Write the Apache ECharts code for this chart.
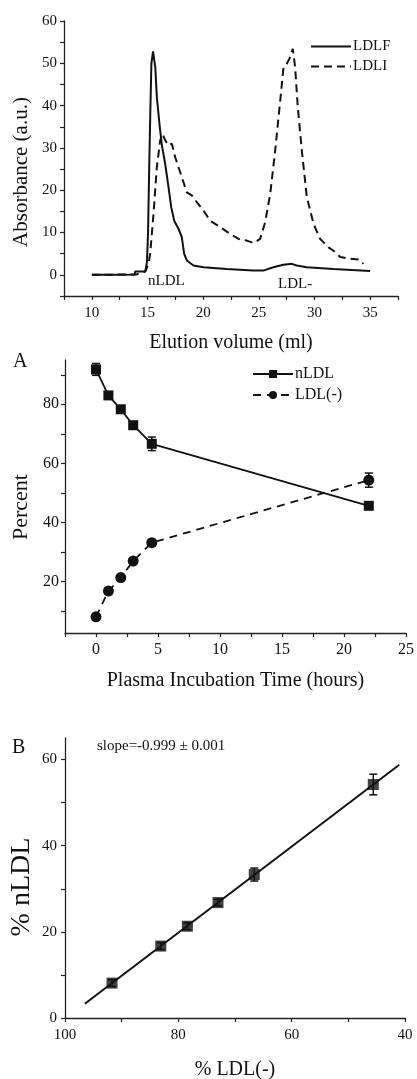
<!DOCTYPE html>
<html>
<head>
<meta charset="utf-8">
<script src="https://cdn.jsdelivr.net/npm/echarts@6/dist/echarts.min.js"></script>
<style>
html,body{margin:0;padding:0;background:#fff;}
#c{width:417px;height:1079px;}
</style>
</head>
<body>
<div id="c"></div>
<script>
// ---------- Panel 1: elution profile ----------
const ldlfX = [10, 11, 12, 13, 13.85, 13.9, 14.0, 14.8, 14.95, 15.05, 15.15, 15.25, 15.35, 15.5, 15.6, 15.7, 15.84, 16.1, 16.3, 16.59, 16.89, 17.13, 17.4, 17.78, 18.08, 18.29, 18.53, 19.13, 20.03, 22.1, 24.5, 25.4, 26.3, 27.2, 27.96, 28.4, 29.3, 31.7, 35];
const ldlfY = [0, 0, 0.05, 0.05, 0.1, 0.8, 0.7, 0.8, 3, 10, 25, 38, 50, 52.8, 52.5, 49, 42, 35, 30.5, 26.2, 20.7, 16, 12.8, 10.9, 8.9, 5, 3.4, 2.2, 1.8, 1.4, 1.0, 1.0, 1.8, 2.4, 2.6, 2.2, 1.8, 1.4, 0.9];
const ldliX = [10, 12, 14, 14.8, 15.09, 15.24, 15.54, 15.84, 16.14, 16.35, 16.59, 16.89, 17.19, 17.49, 17.93, 18.53, 18.98, 19.43, 20.03, 20.63, 21.53, 22.42, 23.17, 23.92, 24.52, 25.12, 25.57, 26.02, 26.47, 26.86, 27.22, 27.51, 27.75, 28.05, 28.26, 28.5, 28.86, 29.31, 29.91, 30.5, 31.26, 31.86, 32.31, 33.2, 33.95, 34.4];
const ldliY = [0, 0.05, 0.1, 0.8, 2.6, 5, 14.4, 25.5, 31.8, 33.3, 31.8, 30.6, 31, 27.8, 24.3, 19.5, 18.8, 17.2, 15.2, 12.8, 11.3, 9.7, 8.5, 8.1, 7.5, 8.5, 12.5, 19.1, 29.4, 39.6, 49.1, 49.9, 51.1, 53.4, 49.1, 39.6, 29.4, 18.4, 12.1, 8.5, 6.5, 5.4, 4.2, 3.8, 3.6, 2.6];
const elutionLabels = [10, 15, 20, 25, 30, 35];
const elutionTicks = [7.5, 10, 12.5, 15, 17.5, 20, 22.5, 25, 27.5, 30, 32.5, 35, 37.5];
const absLabels = [0, 10, 20, 30, 40, 50, 60];
const absTicks = [-5, 0, 5, 10, 15, 20, 25, 30, 35, 40, 45, 50, 55, 60];

// ---------- Panel A: time course ----------
const timeH = [0, 1, 2, 3, 4.5, 22];
const nldlPct = [91.8, 83.0, 78.3, 72.9, 66.6, 45.6];
const nldlErr = [2.0, 1.2, 1.0, 1.0, 2.3, 1.0];
const ldlmPct = [8.0, 16.7, 21.3, 26.9, 33.1, 54.3];
const ldlmErr = [0.8, 0.8, 0.8, 0.8, 1.0, 2.4];
const timeLabels = [0, 5, 10, 15, 20, 25];
const timeTicks = [-2.5, 0, 2.5, 5, 7.5, 10, 12.5, 15, 17.5, 20, 22.5, 25];
const pctLabels = [20, 40, 60, 80];
const pctTicks = [10, 20, 30, 40, 50, 60, 70, 80, 90];

// ---------- Panel B: correlation ----------
const bX = [91.7, 83.1, 78.4, 73.0, 66.6, 45.6];
const bY = [8.1, 16.7, 21.3, 26.8, 33.3, 54.2];
const bErr = [0.8, 0.8, 0.8, 0.8, 1.5, 2.4];
const fitX = [96.5, 41.0];
const fitY = [3.3, 58.8];
const bxLabels = [100, 80, 60, 40];
const bxTicks = [100, 90, 80, 70, 60, 50, 40];
const byLabels = [0, 20, 40, 60];
const byTicks = [0, 10, 20, 30, 40, 50, 60];

const FONT = '"Liberation Serif", "Times New Roman", serif';
const INK = '#111';
const AX = '#222';

const zip = (a, b) => a.map((v, i) => [v, b[i]]);

function axis(o) {
  return Object.assign({
    type: 'value',
    splitLine: { show: false },
    axisLine: { show: true, onZero: false, lineStyle: { color: AX, width: 1.3 } },
    axisTick: { show: true, inside: false, length: 4, lineStyle: { color: AX, width: 1.2 }, customValues: o.ticks },
    axisLabel: { show: true, fontFamily: FONT, fontSize: o.fs || 15, color: INK, margin: o.margin || 6, customValues: o.labels },
    nameTextStyle: { fontFamily: FONT, fontSize: o.nfs || 20, color: INK },
    nameLocation: 'middle'
  }, o.extra);
}

function errSeries(xs, ys, es, xi, yi) {
  return {
    type: 'custom', xAxisIndex: xi, yAxisIndex: yi, silent: true, z: 1,
    data: xs.map((x, i) => [x, ys[i] - es[i], ys[i] + es[i]]),
    renderItem: function (params, api) {
      const x = api.value(0);
      const lo = api.coord([x, api.value(1)]);
      const hi = api.coord([x, api.value(2)]);
      const w = 4;
      const st = { stroke: INK, lineWidth: 1.5 };
      return {
        type: 'group', children: [
          { type: 'line', shape: { x1: lo[0], y1: lo[1], x2: hi[0], y2: hi[1] }, style: st },
          { type: 'line', shape: { x1: lo[0] - w, y1: lo[1], x2: lo[0] + w, y2: lo[1] }, style: st },
          { type: 'line', shape: { x1: hi[0] - w, y1: hi[1], x2: hi[0] + w, y2: hi[1] }, style: st }
        ]
      };
    }
  };
}

function vTitle(text, cx, cy, size) {
  return {
    type: 'text', x: cx, y: cy, rotation: Math.PI / 2,
    style: { text: text, font: size + 'px ' + FONT, fill: INK, align: 'center', verticalAlign: 'middle', textAlign: 'center', textVerticalAlign: 'middle' }
  };
}

const chart = echarts.init(document.getElementById('c'), null, { renderer: 'canvas' });

const option = {
  backgroundColor: '#fff',
  animation: false,
  textStyle: { fontFamily: FONT },
  grid: [
    { left: 64, width: 334, top: 21, height: 275, containLabel: false, outerBoundsMode: 'none' },
    { left: 65, width: 341, top: 360, height: 273, containLabel: false, outerBoundsMode: 'none' },
    { left: 65, width: 340, top: 738, height: 280, containLabel: false, outerBoundsMode: 'none' }
  ],
  xAxis: [
    axis({ ticks: elutionTicks, labels: elutionLabels, fs: 15, margin: 10, nfs: 20,
      extra: { gridIndex: 0, min: 7.5, max: 37.5, name: 'Elution volume (ml)', nameGap: 37 } }),
    axis({ ticks: timeTicks, labels: timeLabels, fs: 16, margin: 9, nfs: 20,
      extra: { gridIndex: 1, min: -2.5, max: 25, name: 'Plasma Incubation Time (hours)', nameGap: 38 } }),
    axis({ ticks: bxTicks, labels: bxLabels, fs: 15, margin: 10, nfs: 20,
      extra: { gridIndex: 2, min: 40, max: 100, inverse: true, name: '% LDL(-)', nameGap: 42 } })
  ],
  yAxis: [
    axis({ ticks: absTicks, labels: absLabels, fs: 15, margin: 7,
      extra: { gridIndex: 0, min: -5, max: 60 } }),
    axis({ ticks: pctTicks, labels: pctLabels, fs: 16, margin: 6,
      extra: { gridIndex: 1, min: 2.5, max: 95 } }),
    axis({ ticks: byTicks, labels: byLabels, fs: 15, margin: 8,
      extra: { gridIndex: 2, min: 0, max: 65 } })
  ],
  legend: [
    {
      data: ['LDLF', 'LDLI'], orient: 'vertical', left: 305, top: 34,
      itemWidth: 40, itemHeight: 10, itemGap: 5,
      itemStyle: { opacity: 0 },
      textStyle: { fontFamily: FONT, fontSize: 15, color: INK, padding: [0, 0, 0, -3] },
      selectedMode: false
    },
    {
      data: ['nLDL', 'LDL(-)'], orient: 'vertical', left: 247, top: 361,
      itemWidth: 40, itemHeight: 10, itemGap: 5,
      textStyle: { fontFamily: FONT, fontSize: 16, color: INK, padding: [0, 0, 0, -3] },
      selectedMode: false
    }
  ],
  series: [
    {
      name: 'LDLF', type: 'line', xAxisIndex: 0, yAxisIndex: 0, data: zip(ldlfX, ldlfY),
      symbol: 'none', lineStyle: { color: INK, width: 2 }, itemStyle: { color: INK }
    },
    {
      name: 'LDLI', type: 'line', xAxisIndex: 0, yAxisIndex: 0, data: zip(ldliX, ldliY),
      symbol: 'none', lineStyle: { color: INK, width: 2, type: [8, 5] }, itemStyle: { color: INK }
    },
    errSeries(timeH, nldlPct, nldlErr, 1, 1),
    errSeries(timeH, ldlmPct, ldlmErr, 1, 1),
    {
      name: 'nLDL', type: 'line', xAxisIndex: 1, yAxisIndex: 1, data: zip(timeH, nldlPct),
      symbol: 'rect', symbolSize: 10, lineStyle: { color: INK, width: 1.8 }, itemStyle: { color: INK }, z: 3
    },
    {
      name: 'LDL(-)', type: 'line', xAxisIndex: 1, yAxisIndex: 1, data: zip(timeH, ldlmPct),
      symbol: 'circle', symbolSize: 11, lineStyle: { color: INK, width: 1.8, type: [8, 6] }, itemStyle: { color: INK }, z: 3
    },
    {
      type: 'line', xAxisIndex: 2, yAxisIndex: 2, data: zip(fitX, fitY),
      symbol: 'none', lineStyle: { color: INK, width: 2 }, silent: true
    },
    errSeries(bX, bY, bErr, 2, 2),
    {
      type: 'scatter', xAxisIndex: 2, yAxisIndex: 2, data: zip(bX, bY),
      symbol: 'rect', symbolSize: 11, itemStyle: { color: INK }, z: 3
    }
  ],
  graphic: [
    vTitle('Absorbance (a.u.)', 21, 172, 21),
    vTitle('Percent', 21, 507, 22),
    vTitle('% nLDL', 22, 887, 28),
    { type: 'text', left: 148, top: 274, style: { text: 'nLDL', font: '15px ' + FONT, fill: INK } },
    { type: 'text', left: 278, top: 277, style: { text: 'LDL-', font: '15px ' + FONT, fill: INK } },
    { type: 'text', left: 13, top: 352, style: { text: 'A', font: '20px ' + FONT, fill: INK } },
    { type: 'text', left: 12, top: 738, style: { text: 'B', font: '20px ' + FONT, fill: INK } },
    { type: 'text', left: 97, top: 739, style: { text: 'slope=-0.999 ± 0.001', font: '15px ' + FONT, fill: INK } }
  ]
};

chart.setOption(option);
</script>
</body>
</html>
